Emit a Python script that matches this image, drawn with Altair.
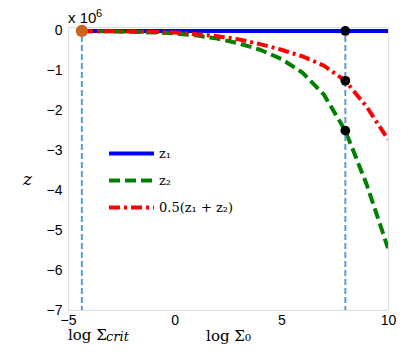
import altair as alt
import pandas as pd

# ---- data ----
x_vals = [-4.35, -3, -2, -1, 0, 1, 2, 3, 4, 5, 6, 7, 8, 9, 10]
z1_vals = [0, 0, 0, 0, 0, 0, 0, 0, 0, 0, 0, 0, 0, 0, 0]
z2_vals = [-0.005, -0.01, -0.02, -0.035, -0.06, -0.11, -0.19, -0.31, -0.47,
           -0.7, -1.05, -1.6, -2.5, -3.85, -5.45]
zavg_vals = [-0.003, -0.006, -0.012, -0.022, -0.04, -0.08, -0.13, -0.21, -0.33,
             -0.47, -0.64, -0.87, -1.25, -1.9, -2.72]
series_names = ["z₁", "z₂", "0.5(z₁ + z₂)"]
series_colors = ["#0000FF", "#008000", "#FF0000"]
marker_x = [8, 8, 8]
marker_y = [0, -1.25, -2.5]
crit_x = [-4.35]
crit_y = [0]
vline_x = [-4.35, 8]
x_ticks = [-5, 0, 5, 10]
y_ticks = [-7, -6, -5, -4, -3, -2, -1, 0]

rows = []
for name, vals in zip(series_names, [z1_vals, z2_vals, zavg_vals]):
    for xv, yv in zip(x_vals, vals):
        rows.append({"x": xv, "z": yv, "s": name})
df = pd.DataFrame(rows)

xscale = alt.Scale(domain=[-5, 10], nice=False, zero=False)
yscale = alt.Scale(domain=[-7, 0.1], nice=False, zero=False)

xaxis = alt.Axis(values=x_ticks, title="log Σ₀", grid=False, ticks=False, domain=False,
                 labelFont="Liberation Sans", labelFontSize=14, labelColor="black",
                 labelPadding=3, labelFlush=False, titleFont="DejaVu Serif", titleFontSize=15,
                 titleFontWeight="normal", titleColor="black", titleY=30,
                 titleBaseline="alphabetic")
yaxis = alt.Axis(values=y_ticks, title="z", grid=False, ticks=False, domain=False,
                 labelFont="Liberation Sans", labelFontSize=14, labelColor="black",
                 labelPadding=6, titleFont="DejaVu Serif", titleFontSize=17,
                 titleFontStyle="italic", titleFontWeight="normal", titleColor="black",
                 titleAngle=0, titleX=-41, titleY=152, titleAlign="center",
                 titleBaseline="middle")

legend_kw = dict(title=None, orient="none", legendX=54, legendY=117,
                 symbolType="M-3,0H3", symbolSize=225, symbolStrokeWidth=4,
                 labelFont="DejaVu Serif", labelFontSize=13, labelColor="black",
                 rowPadding=9, labelOffset=18, padding=0)

color_enc = alt.Color("s:N", scale=alt.Scale(domain=series_names, range=series_colors),
                      legend=alt.Legend(**legend_kw))
dash_enc = alt.StrokeDash("s:N", scale=alt.Scale(domain=series_names,
                                                  range=[[1, 0], [11, 5], [11, 4, 3, 4]]),
                          legend=alt.Legend(**legend_kw))

base = alt.Chart(df)
line_layers = []
for name in series_names:
    line_layers.append(
        base.transform_filter(alt.datum.s == name).mark_line(strokeWidth=4, clip=True).encode(
            x=alt.X("x:Q", scale=xscale, axis=xaxis),
            y=alt.Y("z:Q", scale=yscale, axis=yaxis),
            color=color_enc,
            strokeDash=dash_enc,
        )
    )

vdf = pd.DataFrame({"x": vline_x})
vlines = alt.Chart(vdf).mark_rule(color="#5B9BD5", strokeWidth=2, strokeDash=[6, 3]).encode(
    x=alt.X("x:Q", scale=xscale)
)

mdf = pd.DataFrame({"x": marker_x, "z": marker_y})
markers = alt.Chart(mdf).mark_circle(size=95, color="black", opacity=1).encode(
    x=alt.X("x:Q", scale=xscale), y=alt.Y("z:Q", scale=yscale)
)

cdf = pd.DataFrame({"x": crit_x, "z": crit_y})
crit_pt = alt.Chart(cdf).mark_circle(size=150, color="#C8641E", opacity=1).encode(
    x=alt.X("x:Q", scale=xscale), y=alt.Y("z:Q", scale=yscale)
)

tdf = pd.DataFrame({"x": [-5], "zt": [0.1], "zb": [-7]})
exp_text = alt.Chart(tdf).mark_text(text="x 10", align="left", baseline="alphabetic",
                                    dy=-4, font="Liberation Sans", fontSize=15,
                                    color="black").encode(
    x=alt.X("x:Q", scale=xscale), y=alt.Y("zt:Q", scale=yscale))
exp_sup = alt.Chart(tdf).mark_text(text="6", align="left", baseline="alphabetic",
                                   dy=-10, dx=28, font="Liberation Sans", fontSize=11,
                                   color="black").encode(
    x=alt.X("x:Q", scale=xscale), y=alt.Y("zt:Q", scale=yscale))
crit_text = alt.Chart(tdf).mark_text(text="log Σ", align="left", baseline="alphabetic",
                                     dy=30, font="DejaVu Serif", fontSize=15,
                                     color="black").encode(
    x=alt.X("x:Q", scale=xscale), y=alt.Y("zb:Q", scale=yscale))
crit_sub = alt.Chart(tdf).mark_text(text="crit", align="left", baseline="alphabetic",
                                    dy=31, dx=38, font="DejaVu Serif", fontSize=13,
                                    fontStyle="italic", color="black").encode(
    x=alt.X("x:Q", scale=xscale), y=alt.Y("zb:Q", scale=yscale))

chart = alt.layer(*line_layers, vlines, markers, crit_pt, exp_text, exp_sup,
                  crit_text, crit_sub).properties(
    width=320, height=283, autosize="none",
    padding={"left": 60, "top": 19, "right": 19, "bottom": 34},
).configure_view(stroke="#A0A0A0", strokeWidth=1).configure(background="white")

chart.save("out.html", embed_options={"renderer": "svg", "actions": False})
